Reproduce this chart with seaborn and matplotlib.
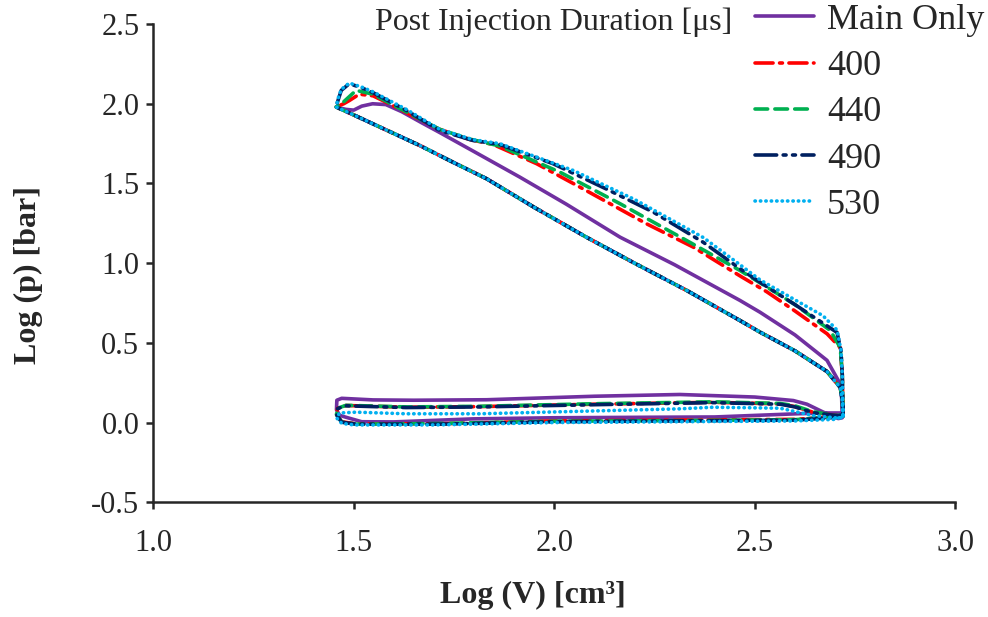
import numpy as np
import pandas as pd
import seaborn as sns
import matplotlib.pyplot as plt

# ----------------------------
# Data (log V [cm3], log p [bar]), one closed cycle per case
# ----------------------------
labels = ["Main Only", "400", "440", "490", "530"]

v_main = [2.720, 2.718, 2.713, 2.680, 2.600, 2.513, 2.463, 2.330, 2.200, 2.080, 1.950, 1.831, 1.750, 1.664, 1.560, 1.500, 1.456,
          1.480, 1.500, 1.520, 1.547, 1.580, 1.620, 1.670, 1.714, 1.800, 1.914, 2.030, 2.164, 2.300, 2.463, 2.513, 2.600, 2.680, 2.709, 2.716, 2.718,
          2.708, 2.671, 2.630, 2.596, 2.500, 2.313, 2.100, 1.831, 1.650, 1.548, 1.470, 1.458, 1.457, 1.465, 1.481,
          1.520, 1.600, 1.797, 2.000, 2.230, 2.400, 2.605, 2.680, 2.715, 2.720]
p_main = [0.060, 0.140, 0.220, 0.320, 0.450, 0.567, 0.640, 0.829, 1.000, 1.163, 1.350, 1.530, 1.630, 1.739, 1.860, 1.930, 1.980,
          1.965, 1.960, 1.985, 2.000, 1.995, 1.950, 1.880, 1.820, 1.700, 1.540, 1.370, 1.163, 0.990, 0.766, 0.692, 0.550, 0.390, 0.260, 0.190, 0.030,
          0.025, 0.065, 0.115, 0.138, 0.160, 0.176, 0.165, 0.143, 0.140, 0.142, 0.152, 0.140, 0.080, 0.045, 0.033,
          0.005, 0.004, 0.023, 0.030, 0.033, 0.035, 0.055, 0.060, 0.060, 0.060]

v_400 = [2.720, 2.718, 2.713, 2.680, 2.600, 2.513, 2.463, 2.330, 2.200, 2.080, 1.950, 1.831, 1.750, 1.664, 1.560, 1.500, 1.456,
         1.475, 1.489, 1.514, 1.548, 1.589, 1.650, 1.714, 1.790, 1.847, 1.956, 2.064, 2.230, 2.347, 2.463, 2.530, 2.600, 2.680, 2.713, 2.718, 2.720,
         2.700, 2.645, 2.600, 2.563, 2.396, 2.100, 1.814, 1.631, 1.481, 1.460, 1.457, 1.470,
         1.506, 1.714, 2.000, 2.300, 2.600, 2.690, 2.720]
p_400 = [0.050, 0.140, 0.220, 0.320, 0.450, 0.567, 0.640, 0.829, 1.000, 1.163, 1.350, 1.530, 1.630, 1.739, 1.860, 1.930, 1.980,
         2.000, 2.020, 2.060, 2.050, 2.000, 1.920, 1.840, 1.775, 1.745, 1.624, 1.477, 1.247, 1.100, 0.920, 0.820, 0.700, 0.557, 0.470, 0.300, 0.040,
         0.045, 0.065, 0.100, 0.117, 0.127, 0.115, 0.100, 0.096, 0.107, 0.090, 0.050, 0.005,
         -0.008, -0.008, 0.010, 0.015, 0.020, 0.035, 0.050]

v_440 = [2.720, 2.718, 2.713, 2.680, 2.600, 2.513, 2.463, 2.330, 2.200, 2.080, 1.950, 1.831, 1.750, 1.664, 1.560, 1.500, 1.456,
         1.474, 1.506, 1.548, 1.600, 1.714, 1.790, 1.864, 2.014, 2.164, 2.330, 2.463, 2.530, 2.600, 2.688, 2.713, 2.718, 2.720,
         2.700, 2.645, 2.600, 2.563, 2.396, 2.100, 1.814, 1.631, 1.481, 1.460, 1.457, 1.470,
         1.506, 1.714, 2.000, 2.300, 2.600, 2.690, 2.720]
p_440 = [0.050, 0.140, 0.220, 0.320, 0.450, 0.567, 0.640, 0.829, 1.000, 1.163, 1.350, 1.530, 1.630, 1.739, 1.860, 1.930, 1.980,
         2.010, 2.084, 2.060, 1.990, 1.840, 1.778, 1.735, 1.571, 1.373, 1.142, 0.954, 0.850, 0.740, 0.578, 0.470, 0.300, 0.040,
         0.045, 0.068, 0.105, 0.120, 0.130, 0.118, 0.102, 0.098, 0.108, 0.090, 0.050, 0.003,
         -0.010, -0.006, 0.008, 0.012, 0.018, 0.035, 0.050]

v_490 = [2.720, 2.718, 2.713, 2.680, 2.600, 2.513, 2.463, 2.330, 2.200, 2.080, 1.950, 1.831, 1.750, 1.664, 1.560, 1.500, 1.456,
         1.462, 1.469, 1.489, 1.520, 1.548, 1.631, 1.714, 1.797, 1.864, 1.997, 2.130, 2.247, 2.372, 2.463, 2.513, 2.600, 2.705, 2.715, 2.718, 2.720,
         2.700, 2.645, 2.600, 2.563, 2.396, 2.100, 1.814, 1.631, 1.481, 1.460, 1.457, 1.470,
         1.506, 1.714, 2.000, 2.300, 2.600, 2.690, 2.720]
p_490 = [0.050, 0.140, 0.220, 0.320, 0.450, 0.567, 0.640, 0.829, 1.000, 1.163, 1.350, 1.530, 1.630, 1.739, 1.860, 1.930, 1.980,
         2.030, 2.084, 2.126, 2.100, 2.070, 1.959, 1.833, 1.770, 1.745, 1.624, 1.465, 1.320, 1.130, 0.965, 0.880, 0.740, 0.565, 0.450, 0.300, 0.040,
         0.045, 0.062, 0.098, 0.115, 0.125, 0.112, 0.098, 0.094, 0.105, 0.088, 0.050, 0.002,
         -0.010, -0.010, 0.005, 0.010, 0.015, 0.030, 0.050]

v_530 = [2.720, 2.718, 2.713, 2.680, 2.600, 2.513, 2.463, 2.330, 2.200, 2.080, 1.950, 1.831, 1.750, 1.664, 1.560, 1.500, 1.456,
         1.462, 1.469, 1.489, 1.520, 1.548, 1.631, 1.714, 1.797, 1.864, 2.047, 2.200, 2.372, 2.463, 2.513, 2.600, 2.670, 2.705, 2.715, 2.718, 2.720,
         2.700, 2.645, 2.563, 2.396, 2.313, 1.814, 1.631, 1.506, 1.465, 1.457, 1.470,
         1.500, 1.700, 2.000, 2.300, 2.600, 2.700, 2.720]
p_530 = [0.040, 0.140, 0.220, 0.320, 0.450, 0.567, 0.640, 0.829, 1.000, 1.163, 1.350, 1.530, 1.630, 1.739, 1.860, 1.930, 1.980,
         2.040, 2.090, 2.130, 2.105, 2.075, 1.965, 1.840, 1.775, 1.750, 1.582, 1.400, 1.160, 0.990, 0.895, 0.770, 0.670, 0.580, 0.450, 0.300, 0.030,
         0.030, 0.044, 0.090, 0.096, 0.086, 0.055, 0.055, 0.065, 0.060, 0.030, -0.005,
         -0.015, -0.015, 0.000, 0.005, 0.010, 0.020, 0.040]

colors = ["#7030A0", "#FF0000", "#00B050", "#002060", "#00B0F0"]
dash_styles = ["", (5, 1.8, 0.8, 1.8), (3.5, 2), (6, 1.8, 0.8, 1.8, 0.8, 1.8), (0.1, 1.4)]

# ----------------------------
# Build one long table
# ----------------------------
frames = []
for lab, v, p in zip(labels, [v_main, v_400, v_440, v_490, v_530], [p_main, p_400, p_440, p_490, p_530]):
    d = pd.DataFrame({"logV": v, "logp": p})
    d["case"] = lab
    d["order"] = np.arange(len(d))
    frames.append(d)
df = pd.concat(frames, ignore_index=True)

# ----------------------------
# Plot
# ----------------------------
sns.set_style("ticks")
plt.rcParams['font.family'] = ['Liberation Serif', 'DejaVu Serif']

fig = plt.figure(figsize=(9.88, 6.17), dpi=100)
ax = fig.add_axes([0.155, 0.186, 0.812, 0.775])

sns.lineplot(data=df, x="logV", y="logp", hue="case", style="case",
             hue_order=labels, style_order=labels,
             palette=dict(zip(labels, colors)), dashes=dict(zip(labels, dash_styles)),
             sort=False, estimator=None, linewidth=2.6, legend=False, ax=ax)

for line in ax.get_lines():
    line.set_dash_capstyle("round")
    line.set_solid_capstyle("round")

ax.set_xlim(1.0, 3.0)
ax.set_ylim(-0.5, 2.5)
ax.set_xticks([1.0, 1.5, 2.0, 2.5, 3.0])
ax.set_yticks([-0.5, 0.0, 0.5, 1.0, 1.5, 2.0, 2.5])
ax.xaxis.set_major_formatter(plt.FormatStrFormatter("%.1f"))
ax.yaxis.set_major_formatter(plt.FormatStrFormatter("%.1f"))
sns.despine(ax=ax)
for s in ["left", "bottom"]:
    ax.spines[s].set_linewidth(1.8)
ax.tick_params(direction="out", length=5, width=1.8, labelsize=22, pad=5)
ax.tick_params(axis="x", pad=14)

ax.set_xlabel("Log (V) [cm³]", fontsize=23, fontweight="bold")
ax.set_ylabel("Log (p) [bar]", fontsize=23, fontweight="bold")
ax.xaxis.set_label_coords(0.473, -0.165)
ax.yaxis.set_label_coords(-0.137, 0.475)

# legend with the title sitting to the left of the first entry
handles = ax.get_lines()[:5]
leg = ax.legend(handles, labels, loc="upper right", bbox_to_anchor=(1.0, 1.0),
                bbox_transform=fig.transFigure, frameon=False, fontsize=26,
                handlelength=1.65, labelspacing=0.36, handletextpad=0.35, borderaxespad=0.0,
                borderpad=0.1)
fig.text(0.38, 0.964, "Post Injection Duration [μs]", fontsize=23, va="center", ha="left")

plt.savefig("out.png", dpi=100)
plt.close()
